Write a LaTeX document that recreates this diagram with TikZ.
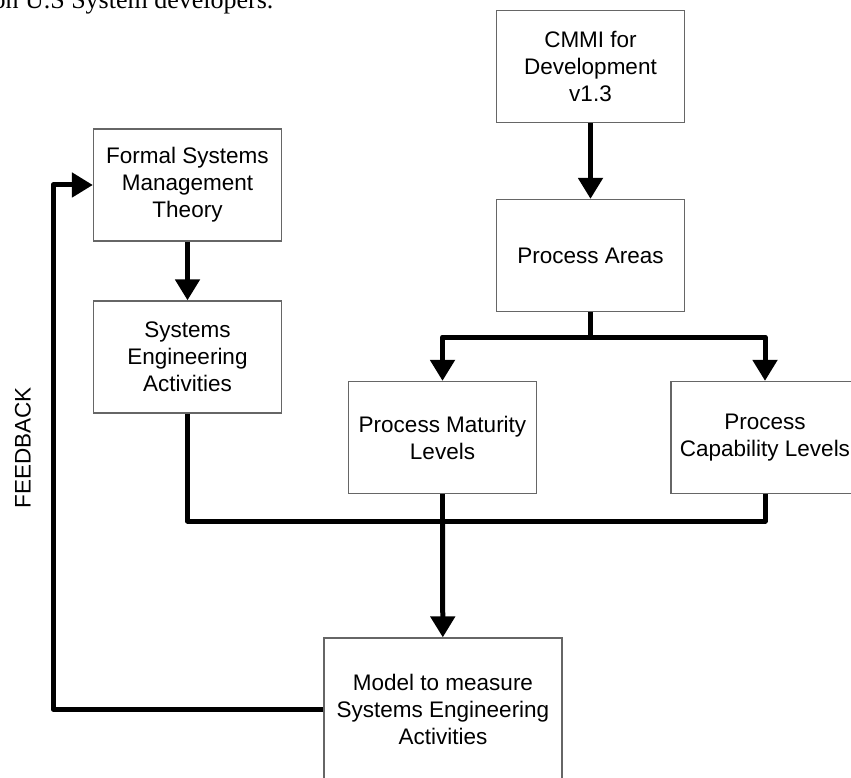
\documentclass[tikz,border=0pt]{standalone}
\usepackage{fontspec}
\setmainfont{Liberation Serif}
\setsansfont{Liberation Sans}
\usetikzlibrary{arrows.meta}

\begin{document}
\begin{tikzpicture}[x=1pt, y=-1pt, font=\sffamily\fontsize{22.5}{27}\selectfont,
    box/.style={draw=black!60, line width=1.3pt, fill=white, align=center,
        minimum width=188pt, minimum height=112pt, inner sep=0pt},
    conn/.style={line width=5pt, line join=round},
    arr/.style={conn, -{Triangle[length=21pt, width=24pt]}}]
        \useasboundingbox (0,0) rectangle (851,778);
        \clip (0,0) rectangle (851,778);
        \node[anchor=base east, font=\rmfamily\fontsize{26}{30}\selectfont] (cap0) at (277,9) {on U.S System developers.};
        % boxes
        \node[box] (cmmi) at (590.5,66.5) {CMMI for\\Development\\v1.3};
        \node[box] (pa) at (590.5,255.5) {Process Areas};
        \node[box] (mat) at (442.5,437.5) {Process Maturity\\Levels};
        \node[box] (cap) at (765,437.5) {Process\\Capability Levels};
        \node[box] (formal) at (187.5,185) {Formal Systems\\Management\\Theory};
        \node[box] (sea) at (187.5,357) {Systems\\Engineering\\Activities};
        \node[box, minimum width=238pt, minimum height=142pt] (model) at (443,709) {Model to measure\\Systems Engineering\\Activities};
        \node[rotate=90] (fb) at (23,448) {FEEDBACK};
        \coordinate (split) at (590.5,337);
        \coordinate (merge) at (442.5,521);
        \coordinate (corner) at (53,709);
        % connectors
        \draw[arr] (cmmi) -- (pa);
        \draw[arr] (pa) -- (split) -| (mat);
        \draw[arr] (split) -| (cap);
        \draw[arr] (formal) -- (sea);
        \draw[conn] (sea) |- (merge);
        \draw[conn] (cap) |- (merge);
        \draw[conn] (mat) -- (merge);
        \draw[arr] (merge) -- (model);
        \draw[arr] (model) -- (corner) |- (formal);
    \end{tikzpicture}
\end{document}
